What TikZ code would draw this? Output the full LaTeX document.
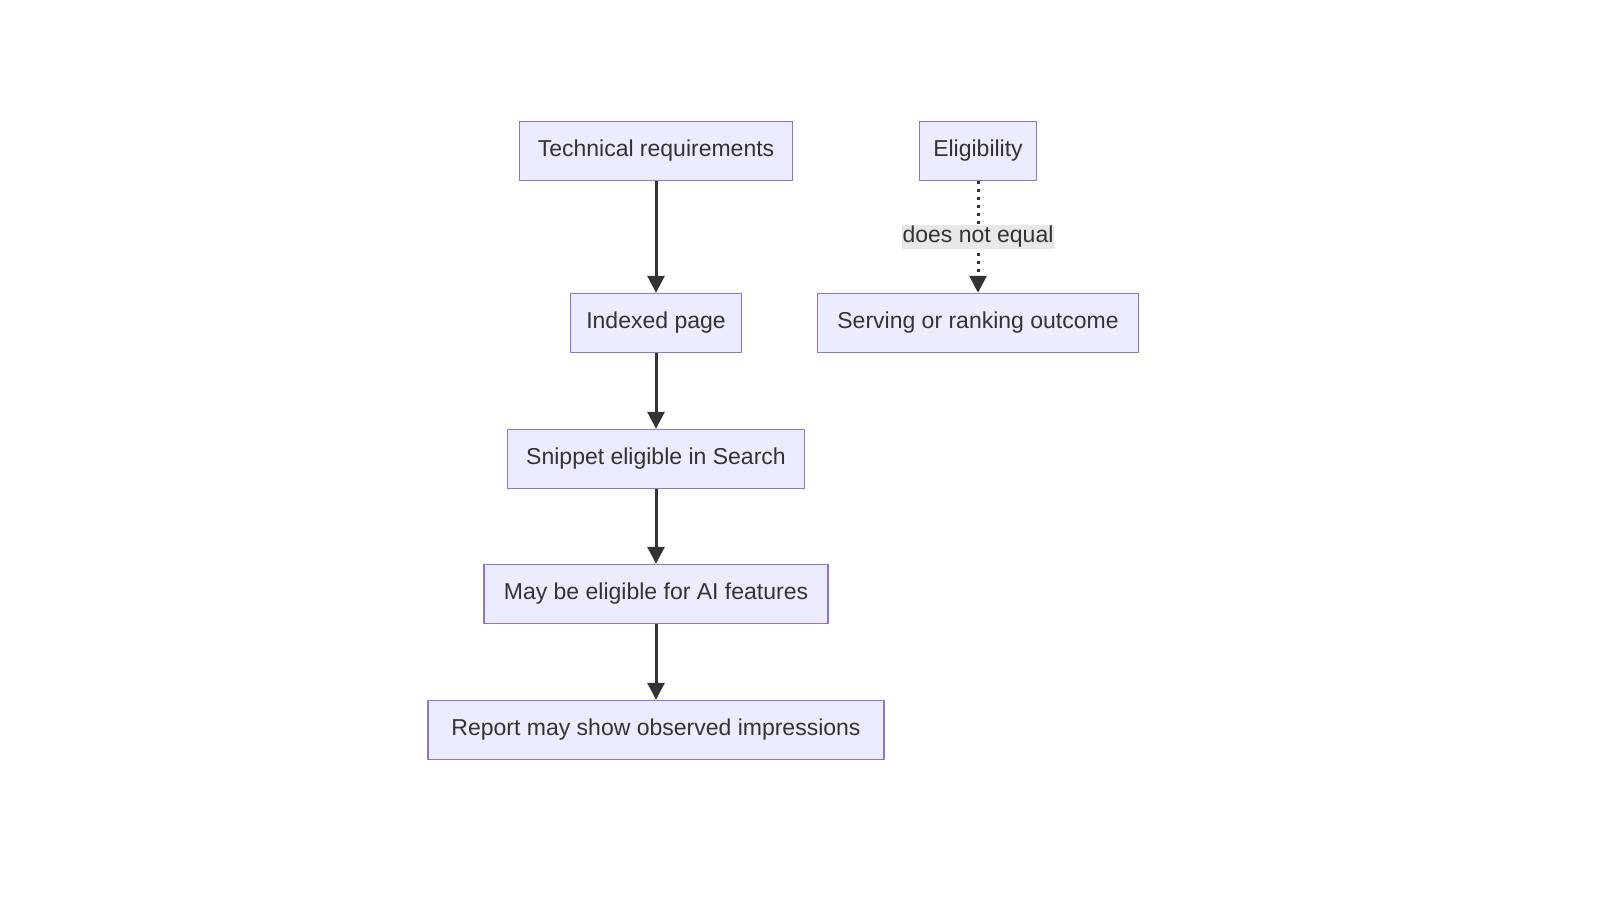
\documentclass[tikz,border=0pt]{standalone}
\usepackage{fontspec}
\setmainfont{Liberation Sans}
\usetikzlibrary{arrows.meta}
\definecolor{nfill}{HTML}{ECECFF}
\definecolor{nline}{HTML}{9370DB}
\definecolor{eline}{HTML}{333333}
\definecolor{lblbg}{HTML}{E8E8E8}
\begin{document}
\begin{tikzpicture}[x=1pt,y=-1pt,
  box/.style={draw=nline,fill=nfill,line width=1.5pt,minimum height=59pt,inner sep=0pt,font=\fontsize{23}{26}\selectfont,text=eline},
  conn/.style={draw=eline,line width=3pt,-{Triangle[length=17pt,width=17pt]}},
  dconn/.style={conn,dash pattern=on 3pt off 5pt}]
\useasboundingbox (0,0) rectangle (1600,900);
\fill[white] (0,0) rectangle (1600,900);
\node[box,minimum width=273pt] (tr) at (656,151) {Technical requirements};
\node[box,minimum width=171pt] (ip) at (656,323) {Indexed page};
\node[box,minimum width=297pt] (se) at (656,459) {Snippet eligible in Search};
\node[box,minimum width=344pt] (may) at (656,594) {May be eligible for AI features};
\node[box,minimum width=456pt] (rep) at (656,730) {Report may show observed impressions};
\node[box,minimum width=117pt] (el) at (978,151) {Eligibility};
\node[box,minimum width=321pt] (srv) at (978,323) {Serving or ranking outcome};
\draw[conn] (tr) -- (ip);
\draw[conn] (ip) -- (se);
\draw[conn] (se) -- (may);
\draw[conn] (may) -- (rep);
\draw[dconn] (el) -- node[fill=lblbg,inner sep=1pt,font=\fontsize{23}{26}\selectfont,text=eline] (lbl) {does not equal} (srv);
\end{tikzpicture}
\end{document}
